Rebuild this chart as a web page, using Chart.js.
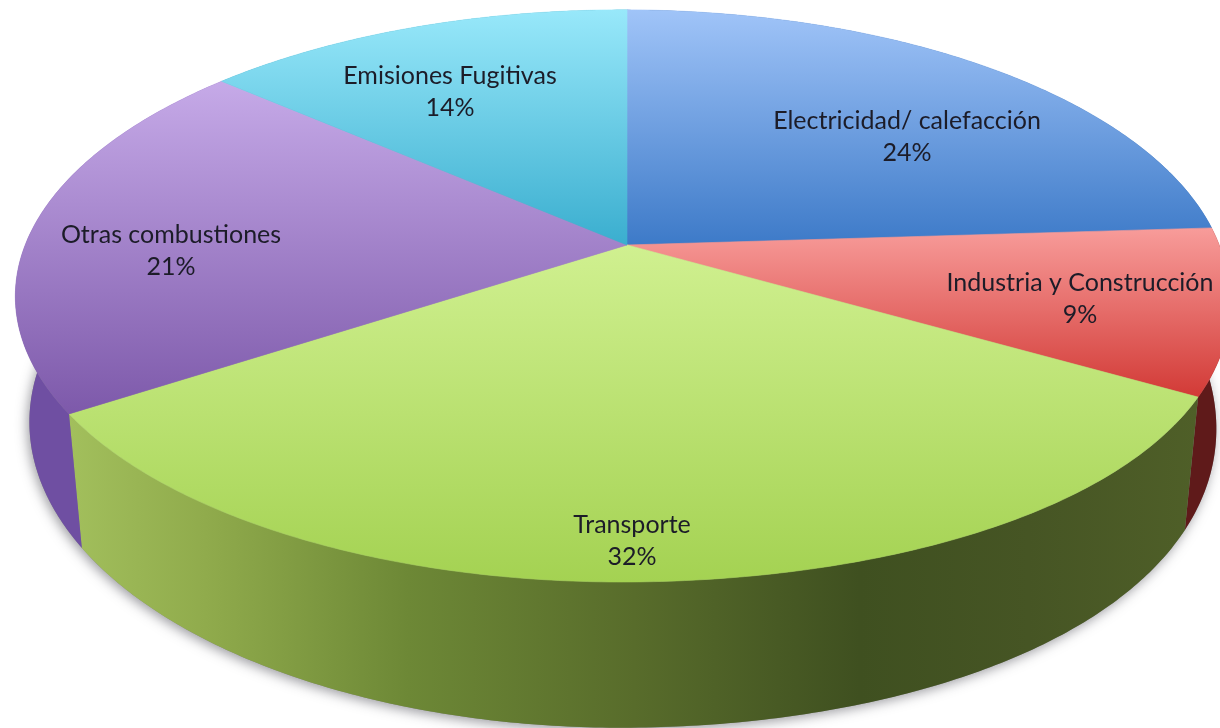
<!DOCTYPE html>
<html>
<head>
<meta charset="utf-8">
<script src="https://cdn.jsdelivr.net/npm/chart.js@4"></script>
<style>
html, body { margin: 0; padding: 0; background: #fff; }
canvas { display: block; }
</style>
</head>
<body>
<canvas id="pieChart" width="1220" height="728"></canvas>
<script>
const categories = ['Electricidad/ calefacción', 'Industria y Construcción', 'Transporte', 'Otras combustiones', 'Emisiones Fugitivas'];
const shares = [24, 9.4, 32.4, 20.6, 13.6];
const shareLabels = ['24%', '9%', '32%', '21%', '14%'];
const topColors = ['#a0c4f8', '#f89c9a', '#d0f090', '#c6aae8', '#98e8fa'];
const bottomColors = ['#3d7ac8', '#d23a36', '#a4d252', '#7d59aa', '#3aaecf'];
const wallColors = ['#2f5f9c', '#5f1a1a', '#55692b', '#6f4fa2', '#2c8aa6'];

// where the text sits, per slice
const labelAnchors = [[907, 137], [1080, 299], [632, 541], [171, 251], [450, 92]];

// tilted disc: perspective mapping from the unit circle to the page
const disc = { x: 627, y: 245, a: 597, b: 277, k: 0.178, m: 0.008, bulge: 40 };

function project(u, v) {
    const w = 1 - disc.k * v + disc.m * u;
    // the front right of the rim sits a little further out
    const extra = (u > 0 && v > 0) ? disc.bulge * u * v * v : 0;
    return [disc.x + disc.a * u / w + extra, disc.y + disc.b * v / w];
}
// lower rim of the disc, from the upper rim
function lower(p) {
    return [627 + 0.977 * (p[0] - 627), 1.07 * p[1] + 105];
}
function rimPoints(start, end) {
    const steps = Math.max(4, Math.ceil((end - start) / 0.01));
    const pts = [];
    for (let i = 0; i <= steps; i++) {
        const t = start + (end - start) * i / steps;
        pts.push(project(Math.cos(t), Math.sin(t)));
    }
    return pts;
}
function tracePoly(ctx, pts) {
    ctx.beginPath();
    pts.forEach(function(p, i) {
        if (i === 0) ctx.moveTo(p[0], p[1]);
        else ctx.lineTo(p[0], p[1]);
    });
    ctx.closePath();
}

const tiltedPie = {
    id: 'tiltedPie',
    beforeDatasetDraw(chart, args) {
        const ctx = chart.ctx;
        const arcs = args.meta.data;
        const whole = rimPoints(0, Math.PI * 2);

        // soft shadow under the whole disc
        ctx.save();
        ctx.shadowColor = 'rgba(60,60,70,0.5)';
        ctx.shadowBlur = 12;
        ctx.shadowOffsetX = -2;
        ctx.shadowOffsetY = 3;
        ctx.fillStyle = '#888';
        tracePoly(ctx, whole.map(lower));
        ctx.fill();
        ctx.restore();

        // side walls
        arcs.forEach(function(arc, i) {
            const rim = rimPoints(arc.startAngle, arc.endAngle);
            const low = rim.map(lower).reverse();
            let fill = wallColors[i];
            if (i === 2) {
                fill = ctx.createLinearGradient(70, 0, 1198, 0);
                fill.addColorStop(0, '#a2bf5c');
                fill.addColorStop(0.12, '#90ab4c');
                fill.addColorStop(0.3, '#6d8836');
                fill.addColorStop(0.5, '#586c2b');
                fill.addColorStop(0.7, '#3f5020');
                fill.addColorStop(0.85, '#465524');
                fill.addColorStop(1, '#4f5f28');
            }
            ctx.fillStyle = fill;
            tracePoly(ctx, rim.concat(low));
            ctx.fill();
        });

        // top faces
        arcs.forEach(function(arc, i) {
            const rim = rimPoints(arc.startAngle, arc.endAngle);
            const pts = [project(0, 0)].concat(rim);
            const ys = pts.map(function(p) { return p[1]; });
            const grad = ctx.createLinearGradient(0, Math.min.apply(null, ys), 0, Math.max.apply(null, ys));
            grad.addColorStop(0, topColors[i]);
            grad.addColorStop(1, bottomColors[i]);
            ctx.fillStyle = grad;
            ctx.strokeStyle = grad;
            ctx.lineWidth = 0.6;
            tracePoly(ctx, pts);
            ctx.fill();
            ctx.stroke();
        });
        return false;
    },
    afterDraw(chart) {
        const ctx = chart.ctx;
        ctx.save();
        ctx.fillStyle = '#1c1c28';
        ctx.font = '25px Lato';
        ctx.textAlign = 'center';
        ctx.textBaseline = 'middle';
        categories.forEach(function(name, i) {
            ctx.fillText(name, labelAnchors[i][0], labelAnchors[i][1] - 16);
            ctx.fillText(shareLabels[i], labelAnchors[i][0], labelAnchors[i][1] + 16);
        });
        ctx.restore();
    }
};

new Chart(document.getElementById('pieChart').getContext('2d'), {
    type: 'pie',
    data: {
        labels: categories,
        datasets: [{ data: shares, backgroundColor: bottomColors, borderWidth: 0 }]
    },
    options: {
        responsive: false,
        animation: false,
        plugins: {
            legend: { display: false },
            tooltip: { enabled: false },
            title: { display: false }
        }
    },
    plugins: [tiltedPie]
});
</script>
</body>
</html>
